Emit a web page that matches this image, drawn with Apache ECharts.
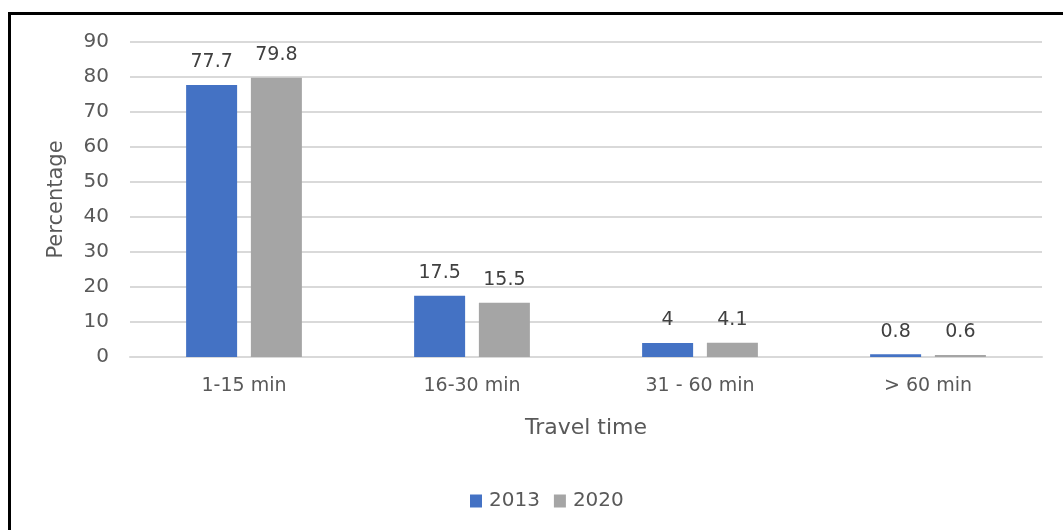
<!DOCTYPE html>
<html>
<head>
<meta charset="utf-8">
<script src="https://cdn.jsdelivr.net/npm/echarts@6/dist/echarts.min.js"></script>
<style>
html,body{margin:0;padding:0;background:#fff;}
#frame{position:absolute;left:8px;top:12px;width:1063px;height:530px;border-left:3px solid #000;border-top:3px solid #000;}
#chart{position:absolute;left:0;top:0;width:1063px;height:530px;}
</style>
</head>
<body>
<div id="frame"></div>
<div id="chart"></div>
<script>
const categories = ['1-15 min', '16-30 min', '31 - 60 min', '> 60 min'];
const series2013 = [77.7, 17.5, 4, 0.8];
const series2020 = [79.8, 15.5, 4.1, 0.6];
const seriesNames = ['2013', '2020'];
const yTicks = { min: 0, max: 90, interval: 10 };

const FONT = '"DejaVu Sans", "Open Sans", sans-serif';
const chart = echarts.init(document.getElementById('chart'), null, { renderer: 'canvas' });
const labelCfg = { show: true, position: 'top', distance: 13, color: '#404040', fontSize: 19, fontFamily: FONT };
chart.setOption({
  backgroundColor: 'transparent',
  animation: false,
  grid: { left: 130, right: 21, top: 42, height: 315, containLabel: false },
  legend: {
    data: seriesNames,
    top: 486,
    left: 465,
    icon: 'rect',
    itemWidth: 12,
    itemHeight: 13,
    itemGap: 14,
    textStyle: { color: '#595959', fontSize: 20, fontFamily: FONT, padding: [0, 0, 0, 2] }
  },
  xAxis: {
    type: 'category',
    data: categories,
    name: 'Travel time',
    nameLocation: 'middle',
    nameGap: 60,
    nameTextStyle: { color: '#595959', fontSize: 22, fontFamily: FONT },
    axisLine: { show: true, lineStyle: { color: '#d9d9d9', width: 2 } },
    axisTick: { show: false },
    axisLabel: { color: '#595959', fontSize: 19, fontFamily: FONT, margin: 20 }
  },
  yAxis: {
    type: 'value',
    min: yTicks.min,
    max: yTicks.max,
    interval: yTicks.interval,
    name: 'Percentage',
    nameLocation: 'middle',
    nameGap: 63,
    nameTextStyle: { color: '#595959', fontSize: 21, fontFamily: FONT },
    axisLine: { show: false },
    axisTick: { show: false },
    axisLabel: { color: '#595959', fontSize: 20, fontFamily: FONT, margin: 21 },
    splitLine: { lineStyle: { color: '#d9d9d9', width: 2 } }
  },
  series: [
    { name: seriesNames[0], type: 'bar', data: series2013, barWidth: 51, barGap: '27%',
      itemStyle: { color: '#4472c4' }, label: labelCfg },
    { name: seriesNames[1], type: 'bar', data: series2020, barWidth: 51,
      itemStyle: { color: '#a5a5a5' }, label: labelCfg }
  ]
});
</script>
</body>
</html>
